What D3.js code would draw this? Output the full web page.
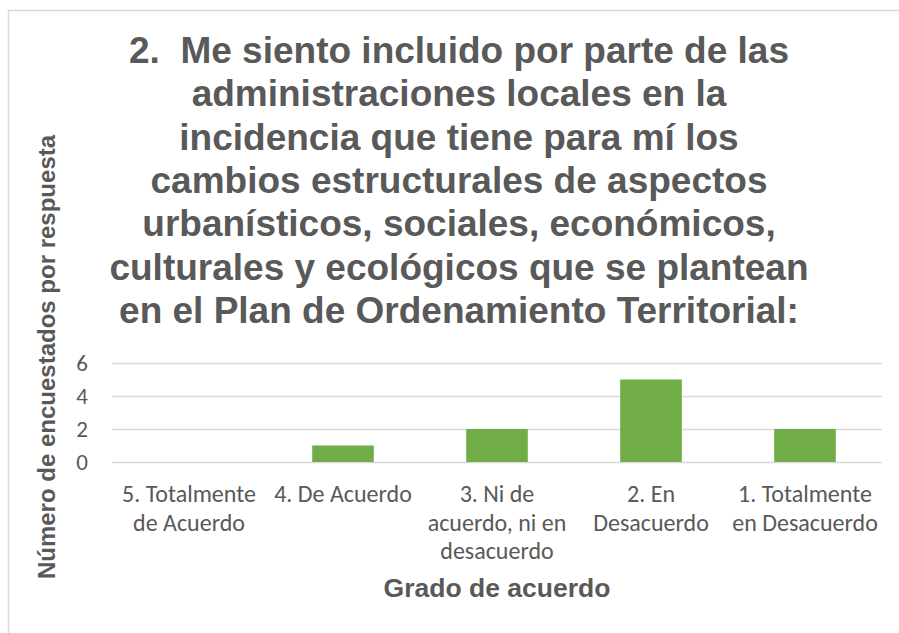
<!DOCTYPE html>
<html>
<head>
<meta charset="utf-8">
<script src="https://cdn.jsdelivr.net/npm/d3@7"></script>
<style>
  html, body { margin: 0; padding: 0; background: #fff; }
  svg { display: block; }
</style>
</head>
<body>
<div id="chart"></div>
<script>
// --- data ---
const categories = [
    "5. Totalmente\nde Acuerdo",
    "4. De Acuerdo",
    "3. Ni de\nacuerdo, ni en\ndesacuerdo",
    "2. En\nDesacuerdo",
    "1. Totalmente\nen Desacuerdo"
];
const values = [0, 1, 2, 5, 2];
const yTicks = [0, 2, 4, 6];
const titleLines = [
    "2.  Me siento incluido por parte de las",
    "administraciones locales en la",
    "incidencia que tiene para mí los",
    "cambios estructurales de aspectos",
    "urbanísticos, sociales, económicos,",
    "culturales y ecológicos que se plantean",
    "en el Plan de Ordenamiento Territorial:"
];
const xTitle = "Grado de acuerdo";
const yTitle = "Número de encuestados por respuesta";

// --- layout ---
const W = 899, H = 633;
const textColor = "#595959";
const gridColor = "#d9d9d9";
const barColor = "#70ad47";
const labelFont = "Calibri, Carlito, Lato, sans-serif";
const boldFont = "Arial, 'Liberation Sans', sans-serif";

const svg = d3.select("#chart").append("svg")
    .attr("width", W)
    .attr("height", H);

svg.append("rect").attr("width", W).attr("height", H).attr("fill", "#fff");

// chart area border (right/bottom fall outside the picture)
svg.append("rect")
    .attr("x", 8.5).attr("y", 10.5)
    .attr("width", 1000).attr("height", 1000)
    .attr("fill", "none")
    .attr("stroke", gridColor)
    .attr("stroke-width", 1.5);

// title
svg.append("text")
    .attr("text-anchor", "middle")
    .attr("font-family", boldFont)
    .attr("font-weight", "bold")
    .attr("font-size", 37)
    .attr("fill", textColor)
    .selectAll("tspan")
    .data(titleLines)
    .enter().append("tspan")
    .attr("x", 459)
    .attr("y", (d, i) => 63 + i * 43.3)
    .attr("xml:space", "preserve")
    .style("white-space", "pre")
    .text(d => d);

// scales
const x = d3.scaleBand()
    .domain(categories)
    .range([112, 882])
    .paddingInner(0.6)
    .paddingOuter(0.3);

const y = d3.scaleLinear()
    .domain([0, 6])
    .range([462, 363]);

// gridlines
svg.append("g")
    .selectAll("line")
    .data(yTicks)
    .enter().append("line")
    .attr("x1", 112).attr("x2", 882)
    .attr("y1", d => Math.round(y(d)) + 0.5)
    .attr("y2", d => Math.round(y(d)) + 0.5)
    .attr("stroke", gridColor)
    .attr("stroke-width", 1.5);

// bars
svg.append("g")
    .selectAll("rect")
    .data(values)
    .enter().append("rect")
    .attr("x", (d, i) => x(categories[i]))
    .attr("width", x.bandwidth())
    .attr("y", d => y(d))
    .attr("height", d => y(0) - y(d))
    .attr("fill", barColor);

// y axis tick labels
const yAxis = svg.append("g")
    .attr("transform", "translate(96,0)")
    .call(d3.axisLeft(y).tickValues(yTicks).tickFormat(d3.format("d")).tickSize(0).tickPadding(8));
yAxis.select(".domain").remove();
yAxis.selectAll("text")
    .attr("font-family", labelFont)
    .attr("font-size", 23)
    .attr("fill", textColor);

// x axis category labels (wrapped)
const xAxis = svg.append("g")
    .attr("transform", "translate(0,462)")
    .call(d3.axisBottom(x).tickSize(0).tickFormat(""));
xAxis.select(".domain").remove();
xAxis.selectAll(".tick text").remove();
xAxis.selectAll(".tick")
    .append("text")
    .attr("text-anchor", "middle")
    .attr("font-family", labelFont)
    .attr("font-size", 24)
    .attr("fill", textColor)
    .selectAll("tspan")
    .data(d => d.split("\n"))
    .enter().append("tspan")
    .attr("x", 0)
    .attr("y", (d, i) => 40 + i * 28.5)
    .text(d => d);

// axis titles
svg.append("text")
    .attr("x", 497).attr("y", 597)
    .attr("text-anchor", "middle")
    .attr("font-family", boldFont)
    .attr("font-weight", "bold")
    .attr("font-size", 26.5)
    .attr("fill", textColor)
    .text(xTitle);

svg.append("text")
    .attr("transform", "translate(55,357) rotate(-90)")
    .attr("text-anchor", "middle")
    .attr("font-family", boldFont)
    .attr("font-weight", "bold")
    .attr("font-size", 24)
    .attr("fill", textColor)
    .text(yTitle);
</script>
</body>
</html>
